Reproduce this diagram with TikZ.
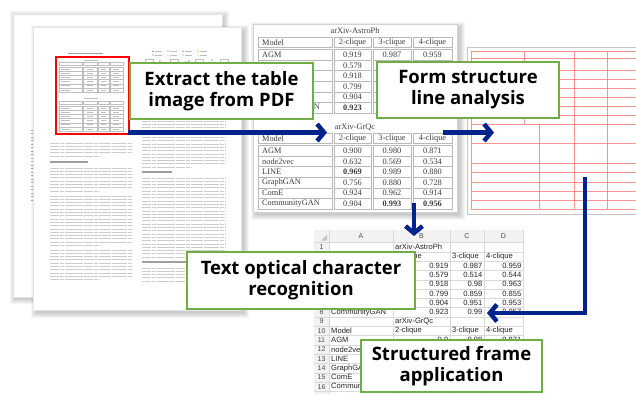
\documentclass[tikz,border=0pt]{standalone}
\usepackage{fontspec}
\setmainfont{Liberation Serif}
\newfontfamily\lblfont{Open Sans}
\newfontfamily\xlsfont{Liberation Sans}
\usetikzlibrary{arrows.meta}
\definecolor{navy}{RGB}{0,36,140}
\definecolor{lblgreen}{RGB}{112,173,71}
\definecolor{gridred}{RGB}{255,110,110}
\definecolor{tabink}{RGB}{60,60,60}
\newcommand{\softshadow}[5]{%
  \foreach \i in {0,...,5}{\fill[black,opacity=0.035,rounded corners=1pt] ({#1+#5-\i},{#2+#5-\i}) rectangle ({#3+#5+\i},{#4+#5+\i});}}
\newcommand{\txtpara}[4]{%
  \foreach \k in {1,...,#4}{%
    \pgfmathsetmacro{\yy}{#3+(\k-1)*3.3}%
    \pgfmathsetmacro{\xe}{\k==#4 ? #1+0.6*(#2-#1) : #2}%
    \draw[pagetxt] (#1,\yy) -- (\xe,\yy);}}
\newcommand{\tabblock}[5]{%
  \node[tabtxt] (#1title) at (355,#2) {#3};
  \foreach \xa/\xb in {258/332,334/371,373/411,413/452}{\draw[cell] (\xa,#4) rectangle (\xb,#4+10.5);}
  \node[tabtxt,anchor=west] (#1hm) at (262,#4+5.25) {Model};
  \node[tabtxt] (#1ha) at (352.5,#4+5.25) {2-clique};
  \node[tabtxt] (#1hb) at (392,#4+5.25) {3-clique};
  \node[tabtxt] (#1hc) at (432.5,#4+5.25) {4-clique};
  \foreach \m/\p/\q/\s [count=\r] in {#5}{%
    \pgfmathsetmacro{\yt}{#4+12.5+(\r-1)*10.6}%
    \foreach \xa/\xb in {258/332,334/371,373/411,413/452}{\draw[cell] (\xa,\yt) rectangle (\xb,\yt+10.6);}
    \node[tabtxt,anchor=west] (#1m\r) at (262,\yt+5.3) {\m};
    \node[tabtxt] (#1p\r) at (352.5,\yt+5.3) {\p};
    \node[tabtxt] (#1q\r) at (392,\yt+5.3) {\q};
    \node[tabtxt] (#1s\r) at (432.5,\yt+5.3) {\s};
  }}
\begin{document}
\begin{tikzpicture}[x=1pt,y=-1pt,
  pagetxt/.style={draw=gray!40,line width=0.95pt,dash pattern=on 9pt off 0.8pt on 4pt off 0.8pt on 12pt off 0.8pt on 6pt off 0.8pt},
  pagehead/.style={draw=gray!75,line width=1.2pt},
  minicell/.style={draw=gray!50,line width=0.3pt},
  minitxt/.style={draw=gray!50,line width=0.6pt},
  cell/.style={draw=gray!55,line width=0.7pt},
  tabtxt/.style={font=\fontsize{8.3}{9}\selectfont,text=tabink,inner sep=0pt},
  xls/.style={font=\xlsfont\fontsize{7.6}{8}\selectfont,text=black!85,inner sep=0pt},
  xlshead/.style={font=\xlsfont\fontsize{7}{8}\selectfont,text=black!70,inner sep=0pt},
  xgrid/.style={draw=gray!30,line width=0.4pt},
  redln/.style={draw=gridred,line width=0.8pt,opacity=0.75},
  flow/.style={draw=navy,line width=4.5pt,-{Straight Barb[length=7pt,width=17pt]}},
  lbl/.style={draw=lblgreen,line width=1.8pt,fill=white,align=center,inner sep=0pt,
    font=\lblfont\bfseries\fontsize{18.5}{21}\selectfont}]
\useasboundingbox (0,0) rectangle (636,394);
\clip (0,0) rectangle (636,394);
\fill[white] (0,0) rectangle (636,394);

% back page
\softshadow{13}{14}{222}{297}{2}
\fill[white,draw=gray!20,line width=0.4pt] (13,14) rectangle (222,297);
\foreach \y in {130,133.5,...,200}{\draw[gray!60,line width=0.8pt] (30.5,\y) -- (32.5,\y);}

% front page
\softshadow{33}{27}{241}{310}{3}
\fill[white,draw=gray!20,line width=0.4pt] (33,27) rectangle (241,310);
% title above table
\draw[pagehead,line width=1pt] (68,53) -- (103,53);
% mini tables in red box
\foreach \ty/\hy/\dy/\dz in {60/62/67/92,98/101/106/131}{
  \draw[minitxt] (84,\ty) -- (98,\ty);
  \foreach \xa/\xb in {59/82,83/97,98/109,110/123}{
    \draw[minicell] (\xa,\hy) rectangle (\xb,\hy+3.5);
    \draw[minicell] (\xa,\dy) rectangle (\xb,\dz);
    \foreach \j in {1,...,5}{\draw[minicell] (\xa,{\dy+\j*(\dz-\dy)/6}) -- (\xb,{\dy+\j*(\dz-\dy)/6});}
  }
  \foreach \j in {0,...,5}{
    \draw[minitxt] (61,{\dy+(\j+0.5)*(\dz-\dy)/6}) -- (70,{\dy+(\j+0.5)*(\dz-\dy)/6});
    \draw[minitxt] (87,{\dy+(\j+0.5)*(\dz-\dy)/6}) -- (93,{\dy+(\j+0.5)*(\dz-\dy)/6});
    \draw[minitxt] (101,{\dy+(\j+0.5)*(\dz-\dy)/6}) -- (106,{\dy+(\j+0.5)*(\dz-\dy)/6});
    \draw[minitxt] (113,{\dy+(\j+0.5)*(\dz-\dy)/6}) -- (119,{\dy+(\j+0.5)*(\dz-\dy)/6});
  }
}
\node[draw=red,line width=2pt,minimum width=73pt,minimum height=77pt,inner sep=0pt] (redbox) at (92,95.5) {};
% legend / figure top right column
\foreach \x/\c in {153/blue,168/gray,183/green!60!black,198/orange}{
  \fill[\c] (\x,51.5) circle (0.7pt); \draw[minitxt] (\x+2,51.5) -- (\x+9,51.5);
  \fill[\c!70] (\x,55) circle (0.7pt); \draw[minitxt] (\x+2,55) -- (\x+9,55);}
\foreach \x in {145,170,195,220}{\draw[minicell] (\x,59) rectangle (\x+8,64);}
\fill[red] (160,61) circle (0.6pt); \fill[blue] (186,62) circle (0.6pt); \fill[blue] (189,61) circle (0.6pt); \fill[green!60!black] (212,60) circle (0.6pt);
% column 1 text
\txtpara{50}{133}{143}{5}
\draw[pagehead] (50,162) -- (88,162);
\txtpara{50}{133}{168}{8}
\txtpara{50}{133}{196}{16}
\txtpara{50}{133}{250}{10}
% column 2 text
\txtpara{142}{226}{121}{15}
\draw[pagehead] (142,172) -- (172,172);
\txtpara{142}{226}{178}{25}
\draw[pagehead] (142,262) -- (195,262);
\txtpara{142}{226}{268}{5}

% table image
\softshadow{253}{24}{457}{212}{3}
\fill[white,draw=gray!35,line width=0.6pt] (253,24) rectangle (457,212);
\tabblock{ta}{31}{arXiv-AstroPh}{37}{AGM/0.919/0.987/0.959, node2vec/0.579/0.514/0.544, LINE/0.918/0.980/0.963, GraphGAN/0.799/0.859/0.855, ComE/0.904/0.951/0.953, CommunityGAN/\textbf{0.923}/\textbf{0.990}/0.957}
\tabblock{tb}{127.5}{arXiv-GrQc}{133}{AGM/0.900/0.980/0.871, node2vec/0.632/0.569/0.534, LINE/\textbf{0.969}/0.989/0.880, GraphGAN/0.756/0.880/0.728, ComE/0.924/0.962/0.914, CommunityGAN/0.904/\textbf{0.993}/\textbf{0.956}}

% line-structure image
\fill[white,draw=gray!45,line width=0.8pt] (467,47) rectangle (645,214);
\foreach \y in {51,58,70,79,88,97,106,115,124,143,163,172,182,191,200,209}{\draw[redln] (471,\y) -- (640,\y);}
\draw[redln] (471,51) -- (471,209);
\draw[redln] (524,51) -- (524,124);
\draw[redln] (539,124) -- (539,209);
\draw[redln] (574,51) -- (574,209);
\draw[redln] (607,51) -- (607,209);

% spreadsheet
\fill[white] (314,230) rectangle (523,394);
\fill[gray!10] (314,230) rectangle (523,242.5);
\fill[gray!10] (314,242.5) rectangle (329,394);
\foreach \x in {329,393,450,484,523}{\draw[xgrid] (\x,230) -- (\x,394);}
\foreach \k in {0,...,16}{\draw[xgrid] (314,{242.5+\k*9.3}) -- (523,{242.5+\k*9.3});}
\fill[gray!45] (327,240.5) -- (327,234.5) -- (321,240.5) -- cycle;
\node[xlshead] (colA) at (361,236.5) {A};
\node[xlshead] (colB) at (421.5,236.5) {B};
\node[xlshead] (colC) at (467,236.5) {C};
\node[xlshead] (colD) at (503.5,236.5) {D};
\foreach \k in {1,...,16}{\node[xlshead] (rn\k) at (321.5,{242.5+(\k-0.5)*9.3}) {\k};}
\node[xls,anchor=west] (xb1) at (395,{242.5+0.5*9.3}) {arXiv-AstroPh};
\node[xls,anchor=west] (xb9) at (395,{242.5+8.5*9.3}) {arXiv-GrQc};
\foreach \r in {2,10}{
  \node[xls,anchor=west] (xa\r) at (331,{242.5+(\r-0.5)*9.3}) {Model};
  \node[xls,anchor=west] (xb\r) at (395,{242.5+(\r-0.5)*9.3}) {2-clique};
  \node[xls,anchor=west] (xc\r) at (452,{242.5+(\r-0.5)*9.3}) {3-clique};
  \node[xls,anchor=west] (xd\r) at (486,{242.5+(\r-0.5)*9.3}) {4-clique};}
\foreach \r/\a/\b/\c/\d in {3/AGM/0.919/0.987/0.959, 4/node2vec/0.579/0.514/0.544, 5/LINE/0.918/0.98/0.963, 6/GraphGAN/0.799/0.859/0.855, 7/ComE/0.904/0.951/0.953, 8/CommunityGAN/0.923/0.99/0.957, 11/AGM/0.9/0.98/0.871, 12/node2vec/0.632/0.569/0.534, 13/LINE/0.969/0.989/0.88, 14/GraphGAN/0.756/0.88/0.728, 15/ComE/0.924/0.962/0.914, 16/CommunityGAN/0.904/0.993/0.956}{
  \node[xls,anchor=west] (xa\r) at (331,{242.5+(\r-0.5)*9.3}) {\a};
  \node[xls,anchor=east] (xb\r) at (448.5,{242.5+(\r-0.5)*9.3}) {\b};
  \node[xls,anchor=east] (xc\r) at (482.5,{242.5+(\r-0.5)*9.3}) {\c};
  \node[xls,anchor=east] (xd\r) at (521.5,{242.5+(\r-0.5)*9.3}) {\d};}

% arrows
\coordinate (a1s) at (128,132.5);
\coordinate (a1e) at (327,132.5);
\coordinate (a2s) at (443,132.5);
\coordinate (a2e) at (494,132.5);
\coordinate (a3s) at (414,203);
\coordinate (a3e) at (414,236);
\coordinate (a4s) at (585,177);
\coordinate (a4c) at (585,313);
\coordinate (a4e) at (487,313);
\draw[flow] (a1s) -- (a1e);
\draw[flow] (a2s) -- (a2e);
\draw[flow] (a3s) -- (a3e);
\draw[flow,line join=miter] (a4s) -- (a4c) -- (a4e);

% labels
\node[lbl,minimum width=183pt,minimum height=56pt] (l1) at (221.5,91) {Extract the table\\image from PDF};
\node[lbl,minimum width=182pt,minimum height=56pt] (l2) at (468,90) {Form structure\\line analysis};
\node[lbl,minimum width=228pt,minimum height=57pt] (l3) at (301,280.5) {Text optical character\\recognition};
\node[lbl,minimum width=181pt,minimum height=52pt] (l4) at (451.5,366) {Structured frame\\application};
\end{tikzpicture}
\end{document}
